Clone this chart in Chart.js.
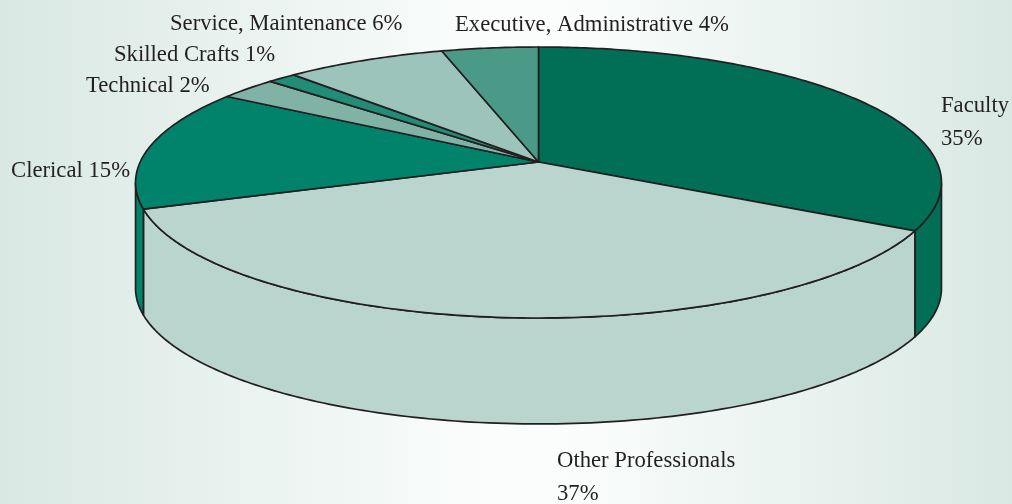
<!DOCTYPE html>
<html>
<head>
<meta charset="utf-8">
<script src="https://cdn.jsdelivr.net/npm/chart.js@4"></script>
<style>
html, body { margin: 0; padding: 0; width: 1012px; height: 504px; overflow: hidden; }
body { background: linear-gradient(90deg, #d9e8e3 0%, #eaf3f0 25%, #fbfdfc 48%, #fbfdfc 56%, #eaf3f0 78%, #d9e8e3 100%); }
canvas { display: block; }
</style>
</head>
<body>
<canvas id="pieChart" width="1012" height="504"></canvas>
<script>
var categories = [
    "Faculty",
    "Other Professionals",
    "Clerical",
    "Technical",
    "Skilled Crafts",
    "Service, Maintenance",
    "Executive, Administrative"
];
var shares = [35, 37, 15, 2, 1, 6, 4];
var colors = ["#006f55", "#bad5ce", "#00836a", "#80b3a6", "#218d77", "#9cc4ba", "#4a9a87"];

// where each label sits: x, baseline y, and whether the percent goes on a second line
var labelSpots = [
    [941, 112, true],
    [557, 467, true],
    [11, 177, false],
    [86, 92, false],
    [114, 61, false],
    [170, 30, false],
    [455, 31, false]
];

// look of the tilted disc, relative to the pie radius
var stretchX = 2.214, stretchY = 0.7445, depth = 0.582;
var perspective = -0.1513, apexShift = -0.1126;
var skew = [6.7, 10.8, -7.5];

function rimPoint(arc, angle) {
    var t = angle + Math.PI / 2;
    var deg = Math.PI / 180;
    var p = t + (skew[0] * Math.sin(t) + skew[1] * Math.sin(2 * t) + skew[2] * Math.sin(3 * t)) * deg;
    var u = Math.sin(p), v = -Math.cos(p);
    var w = 1 + perspective * v;
    var r = arc.outerRadius;
    return {
        x: arc.x + r * stretchX * Math.sqrt(1 - perspective * perspective) * u / w,
        y: arc.y + r * stretchY * (v + apexShift / stretchY) / w
    };
}

function rimOf(arc) {
    var pts = [];
    var n = Math.max(4, Math.ceil((arc.endAngle - arc.startAngle) * 90));
    for (var i = 0; i <= n; i++) {
        pts.push(rimPoint(arc, arc.startAngle + (arc.endAngle - arc.startAngle) * i / n));
    }
    return pts;
}

function rimApex(arc) {
    return { x: arc.x, y: arc.y + arc.outerRadius * apexShift };
}

function drawLabel(ctx, text, x, y) {
    ctx.save();
    ctx.translate(x, y);
    ctx.scale(0.945, 1);
    ctx.fillText(text, 0, 0);
    ctx.restore();
}

var tiltedPie = {
    id: "tiltedPie",
    beforeDatasetsDraw: function (chart) {
        var ctx = chart.ctx;
        var arcs = chart.getDatasetMeta(0).data;
        ctx.save();
        ctx.strokeStyle = "#231f20";
        ctx.lineWidth = 1.7;
        ctx.lineJoin = "round";
        // side wall: only the front part of the rim shows
        arcs.forEach(function (arc) {
            var pts = rimOf(arc).filter(function (p) { return p.y >= arc.y; });
            if (pts.length < 2) return;
            var drop = arc.outerRadius * depth;
            ctx.beginPath();
            pts.forEach(function (p, i) {
                if (i == 0) ctx.moveTo(p.x, p.y); else ctx.lineTo(p.x, p.y);
            });
            pts.slice().reverse().forEach(function (p) {
                ctx.lineTo(p.x, p.y + drop);
            });
            ctx.closePath();
            ctx.fillStyle = arc.options.backgroundColor;
            ctx.fill();
            ctx.stroke();
        });
        // top face
        arcs.forEach(function (arc) {
            var apex = rimApex(arc);
            ctx.beginPath();
            ctx.moveTo(apex.x, apex.y);
            rimOf(arc).forEach(function (p) {
                ctx.lineTo(p.x, p.y);
            });
            ctx.closePath();
            ctx.fillStyle = arc.options.backgroundColor;
            ctx.fill();
            ctx.stroke();
        });
        ctx.restore();
        return false;
    },
    afterDraw: function (chart) {
        var ctx = chart.ctx;
        ctx.save();
        ctx.fillStyle = "#231f20";
        ctx.font = "24px 'Liberation Serif'";
        ctx.textBaseline = "alphabetic";
        categories.forEach(function (name, i) {
            var spot = labelSpots[i];
            var pct = shares[i] + "%";
            if (spot[2]) {
                drawLabel(ctx, name, spot[0], spot[1]);
                drawLabel(ctx, pct, spot[0], spot[1] + 33);
            } else {
                drawLabel(ctx, name + " " + pct, spot[0], spot[1]);
            }
        });
        ctx.restore();
    }
};

var pie = document.getElementById("pieChart").getContext("2d");
var myChart = new Chart(pie, {
    type: "pie",
    data: {
        labels: categories,
        datasets: [
            {
                data: shares,
                backgroundColor: colors,
                borderColor: "#231f20",
                borderWidth: 1
            }
        ]
    },
    options: {
        responsive: false,
        animation: false,
        layout: { padding: { left: 65, right: 0, top: 0, bottom: 139 } },
        plugins: {
            legend: { display: false },
            tooltip: { enabled: false }
        }
    },
    plugins: [tiltedPie]
});
</script>
</body>
</html>
